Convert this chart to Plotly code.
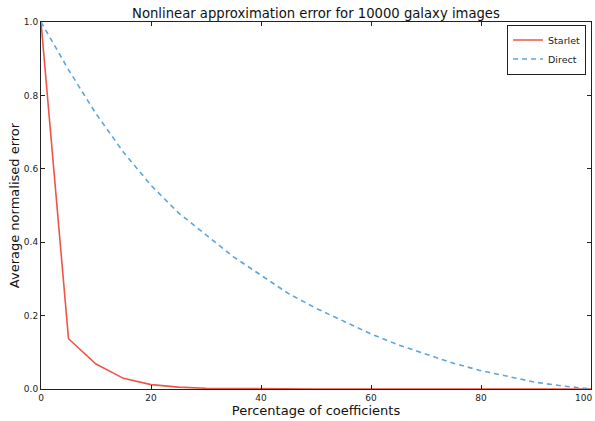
import plotly.graph_objects as go

# Percentage of coefficients kept
pct_starlet = [0, 5, 10, 15, 20, 25, 30, 35, 40, 45, 50, 55, 60, 65, 70, 75, 80, 85, 90, 95, 100]
err_starlet = [1.0, 0.137, 0.068, 0.029, 0.012, 0.005, 0.002, 0.001, 0.0005, 0.0, 0.0,
               0.0, 0.0, 0.0, 0.0, 0.0, 0.0, 0.0, 0.0, 0.0, 0.0]

pct_direct = [0, 5, 10, 15, 20, 25, 30, 35, 40, 45, 50, 55, 60, 65, 70, 75, 80, 85, 90, 95, 100]
err_direct = [1.0, 0.87, 0.75, 0.645, 0.555, 0.48, 0.42, 0.36, 0.31, 0.26, 0.22,
              0.185, 0.15, 0.12, 0.095, 0.07, 0.05, 0.033, 0.018, 0.008, 0.0]

x_ticks = [0, 20, 40, 60, 80, 100]
y_ticks = [0.0, 0.2, 0.4, 0.6, 0.8, 1.0]

FONT = "DejaVu Sans"
TICK_FONT = dict(family=FONT, size=9, color="#222222")

fig = go.Figure()
fig.add_trace(go.Scatter(
    x=pct_starlet, y=err_starlet, mode="lines", name="Starlet",
    line=dict(color="#EE5548", width=1.6),
))
fig.add_trace(go.Scatter(
    x=pct_direct, y=err_direct, mode="lines", name="Direct",
    line=dict(color="#5DA5DA", width=1.6, dash="5px,4px"),
))

axis_common = dict(
    showgrid=False, zeroline=False,
    showline=True, linecolor="#222222", linewidth=1, mirror="ticks",
    ticks="inside", ticklen=4, tickwidth=1, tickcolor="#222222",
    tickfont=TICK_FONT,
)

fig.update_xaxes(
    range=[0, 100], tickvals=x_ticks, ticktext=[str(v) for v in x_ticks],
    title=dict(text="Percentage of coefficients", font=dict(family=FONT, size=13, color="#111111"),
               standoff=4),
    **axis_common,
)
fig.update_yaxes(
    range=[0, 1], tickvals=y_ticks, ticktext=[f"{v:.1f}" for v in y_ticks],
    title=dict(text="Average normalised error", font=dict(family=FONT, size=13, color="#111111"),
               standoff=1),
    **axis_common,
)

# The rightmost x tick label sits on the figure edge; plotly drops it from the
# axis, so it is written explicitly, right-aligned so it stays inside the page.
fig.add_annotation(
    x=x_ticks[-1], y=0, xref="x", yref="paper", xanchor="right", yanchor="top",
    xshift=3, yshift=-2, text=str(x_ticks[-1]), showarrow=False, font=TICK_FONT,
)

fig.update_layout(
    width=595, height=421,
    margin=dict(l=41, r=4, t=22, b=32),
    paper_bgcolor="white", plot_bgcolor="white",
    title=dict(text="Nonlinear approximation error for 10000 galaxy images",
               font=dict(family=FONT, size=13.2, color="#111111"),
               x=0.531, xanchor="center", y=0.968, yanchor="middle"),
    legend=dict(
        x=0.991, xanchor="right", y=0.993, yanchor="top",
        bgcolor="white", bordercolor="#222222", borderwidth=1,
        font=dict(family=FONT, size=9.5, color="#222222"),
        itemwidth=30, tracegroupgap=0,
    ),
    showlegend=True,
)

fig.write_html("out.html")
